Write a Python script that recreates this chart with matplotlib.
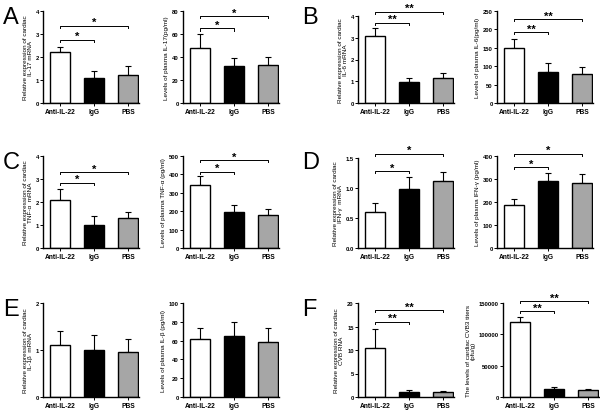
import matplotlib
matplotlib.use('Agg')
import matplotlib.pyplot as plt
import numpy as np

# -------------------------------------------------------------------------- #
# DONNEES
# -------------------------------------------------------------------------- #
groupes = ['Anti-IL-22', 'IgG', 'PBS']
couleurs = ['white', 'black', '#a6a6a6']

lettres = ['A', 'B', 'C', 'D', 'E', 'F']

# mRNA (gauche) / plasma (droite) pour chaque panneau
a_mrna = [2.2, 1.1, 1.2]
a_mrna_err = [0.25, 0.3, 0.4]
a_plasma = [48, 32, 33]
a_plasma_err = [12, 7, 7]

b_mrna = [3.1, 0.95, 1.15]
b_mrna_err = [0.35, 0.2, 0.25]
b_plasma = [150, 85, 80]
b_plasma_err = [25, 23, 18]

c_mrna = [2.1, 1.0, 1.3]
c_mrna_err = [0.45, 0.4, 0.25]
c_plasma = [340, 195, 180]
c_plasma_err = [50, 40, 30]

d_mrna = [0.6, 0.98, 1.11]
d_mrna_err = [0.15, 0.2, 0.16]
d_plasma = [185, 292, 284]
d_plasma_err = [30, 36, 38]

e_mrna = [1.1, 1.0, 0.95]
e_mrna_err = [0.3, 0.32, 0.28]
e_plasma = [62, 65, 58]
e_plasma_err = [11, 15, 15]

f_mrna = [10.5, 1.0, 1.0]
f_mrna_err = [4.0, 0.4, 0.35]
f_titre = [120000, 13000, 11000]
f_titre_err = [8000, 3000, 2000]

ylabels = [
    ('Relative expression of cardiac\nIL-17 mRNA', 'Levels of plasma IL-17(pg/ml)'),
    ('Relative expression of cardiac\nIL-6 mRNA', 'Levels of plasma IL-6(pg/ml)'),
    ('Relative expression of cardiac\nTNF-\u03b1  mRNA', 'Levels of plasma TNF-\u03b1 (pg/ml)'),
    ('Relative expression of cardiac\nIFN-\u03b3  mRNA', 'Levels of plasma IFN-\u03b3 (pg/ml)'),
    ('Relative expression of cardiac\nIL-1\u03b2  mRNA', 'Levels of plasma IL-\u03b2 (pg/ml)'),
    ('Relative expression of cardiac\nCVB RNA', 'The levels of cardiac CVB3 titers\n(pfu/g)'),
]

# (ymax, pas des graduations, format)
echelles = [
    ((4, 1, '%d'), (80, 20, '%d')),
    ((4, 1, '%d'), (250, 50, '%d')),
    ((4, 1, '%d'), (500, 100, '%d')),
    ((1.5, 0.5, '%.1f'), (400, 100, '%d')),
    ((2, 1, '%d'), (100, 20, '%d')),
    ((20, 5, '%d'), (150000, 50000, '%d')),
]

# crochets de significativité : (hauteur IgG, hauteur PBS, texte)
signif = [
    ((2.75, 3.35, '*'), (65, 75.5, '*')),
    ((3.68, 4.2, '**'), (193, 228, '**')),
    ((2.83, 3.3, '*'), (414, 478, '*')),
    ((1.28, 1.57, '*'), (352, 409, '*')),
    (None, None),
    ((16, 18.5, '**'), (137000, 153000, '**')),
]

donnees = [
    ((a_mrna, a_mrna_err), (a_plasma, a_plasma_err)),
    ((b_mrna, b_mrna_err), (b_plasma, b_plasma_err)),
    ((c_mrna, c_mrna_err), (c_plasma, c_plasma_err)),
    ((d_mrna, d_mrna_err), (d_plasma, d_plasma_err)),
    ((e_mrna, e_mrna_err), (e_plasma, e_plasma_err)),
    ((f_mrna, f_mrna_err), (f_titre, f_titre_err)),
]

# -------------------------------------------------------------------------- #
# FIGURE
# -------------------------------------------------------------------------- #
plt.rcParams['font.family'] = ['Liberation Sans', 'DejaVu Sans']
plt.rcParams['font.weight'] = 'bold'

W, H = 600, 414
fig = plt.figure(figsize=(6, 4.14), dpi=100)

# positions en pixels (gauche, haut, bas)
col_x = [[43, 183], [358, 497], [43, 183], [358, 497], [43, 183], [358, 503]]
row_y = [[(12, 104), (12, 104)], [(17, 104), (12, 104)],
         [(157, 249), (157, 249)], [(159, 249), (157, 249)],
         [(304, 398), (304, 398)], [(304, 398), (304, 398)]]
larg = 96


def crochet(ax, x0, x1, h, texte, ymax):
    d = ymax * 0.025
    ax.plot([x0, x0, x1, x1], [h - d, h, h, h - d], color='black', lw=0.7,
            clip_on=False)
    ax.text((x0 + x1) / 2, h - ymax * 0.015, texte, ha='center', va='bottom',
            fontsize=8, clip_on=False)


def panneau(ax, valeurs, erreurs, echelle, ylabel, sig):
    ymax, pas, fmt = echelle
    x = np.arange(3)
    ax.bar(x, valeurs, width=0.6, color=couleurs, edgecolor='black',
           linewidth=1.0, zorder=2)
    ax.errorbar(x, valeurs, yerr=[np.zeros(3), erreurs], fmt='none',
                ecolor='black', elinewidth=0.8, capsize=2.5, capthick=0.8,
                zorder=1)
    ax.set_xlim(-0.5, 2.32)
    ax.set_ylim(0, ymax)
    ax.set_yticks(np.arange(0, ymax + pas / 2, pas))
    ax.yaxis.set_major_formatter(matplotlib.ticker.FormatStrFormatter(fmt))
    ax.set_xticks(x)
    ax.set_xticklabels(groupes)
    ax.tick_params(labelsize=4.8, length=2, width=0.7, pad=1.5)
    ax.tick_params(axis='y', labelsize=4.2, pad=1)
    ax.spines['top'].set_visible(False)
    ax.spines['right'].set_visible(False)
    ax.spines['left'].set_linewidth(1.0)
    ax.spines['bottom'].set_linewidth(1.0)
    ax.set_ylabel(ylabel, fontsize=4.6, labelpad=2, linespacing=1.0)
    if sig is not None:
        h1, h2, t = sig
        crochet(ax, 0, 1, h1, t, ymax)
        crochet(ax, 0, 2, h2, t, ymax)


for i in range(6):
    for j in range(2):
        haut, bas = row_y[i][j]
        gx = col_x[i][j]
        ax = fig.add_axes([gx / W, 1 - bas / H, larg / W, (bas - haut) / H])
        vals, errs = donnees[i][j]
        panneau(ax, vals, errs, echelles[i][j], ylabels[i][j], signif[i][j])
    haut = row_y[i][1][0]
    lx = 3 if i % 2 == 0 else 302
    fig.text(lx / W, 1 - (haut - 5) / H, lettres[i], fontsize=17,
             fontweight='normal', ha='left', va='top')

fig.savefig('out.png', dpi=100)
